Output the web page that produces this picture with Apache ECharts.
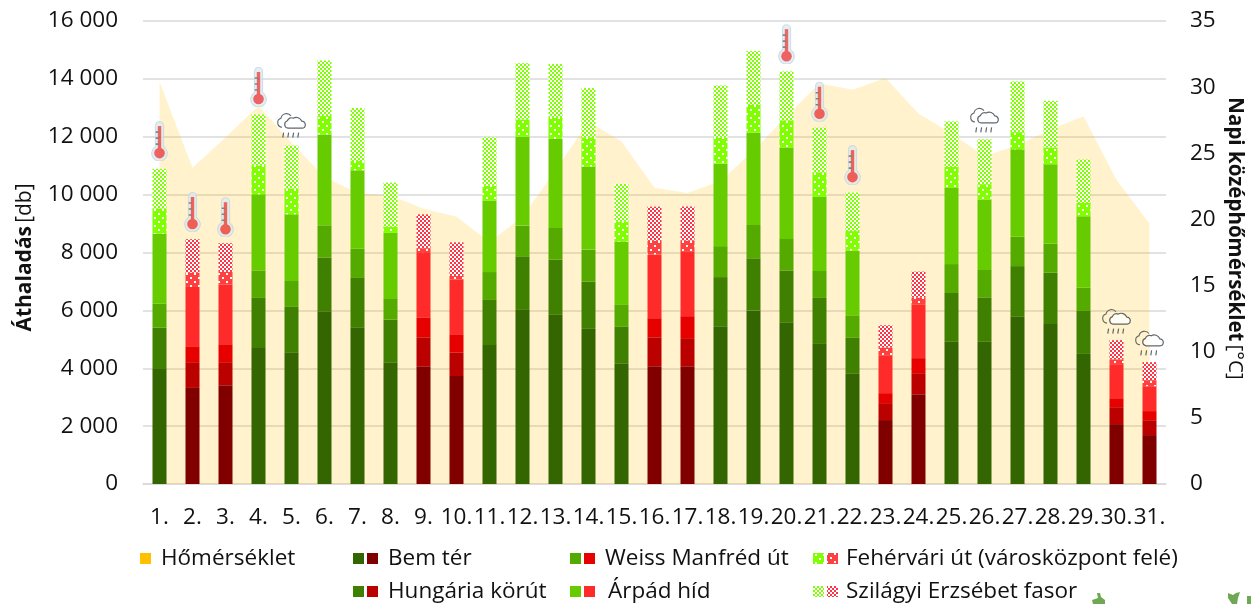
<!DOCTYPE html>
<html>
<head>
<meta charset="utf-8">
<style>
    html, body { margin: 0; padding: 0; background: #fff; }
    #chart { width: 1251px; height: 604px; }
</style>
<script src="https://cdn.jsdelivr.net/npm/echarts@6/dist/echarts.min.js"></script>
</head>
<body>
<div id="chart"></div>
<script>
var days = ["1.","2.","3.","4.","5.","6.","7.","8.","9.","10.","11.","12.","13.","14.","15.","16.","17.","18.","19.","20.","21.","22.","23.","24.","25.","26.","27.","28.","29.","30.","31."];
// 1-based days drawn in red
var redDays = [2,3,9,10,16,17,23,24,30,31];

var bemTer = [3970,3320,3415,4700,4550,5970,5415,4210,4070,3730,4800,6015,5865,5360,4175,4070,4070,5450,5990,5590,4840,3830,2210,3105,4935,4935,5800,5530,4495,2070,1690];
var hungaria = [1430,890,795,1730,1570,1860,1705,1470,1000,820,1560,1855,1885,1630,1255,1000,970,1700,1810,1790,1590,1220,585,725,1665,1515,1730,1770,1485,585,515];
var weiss = [830,550,620,950,895,1110,1010,714,690,625,965,1060,1100,1110,780,660,760,1070,1150,1090,930,780,345,520,1000,945,1010,1000,800,310,315];
var arpad = [2420,2050,2060,2630,2305,3140,2710,2286,2220,1895,2469,3070,3080,2870,2170,2205,2240,2850,3190,3160,2560,2240,1310,1860,2630,2435,3025,2750,2470,1150,860];
var fehervari = [870,490,440,1000,890,635,320,205,170,120,516,600,720,1010,690,470,370,900,960,935,850,670,265,230,725,530,595,580,460,195,210];
var szilagyi = [1370,1160,990,1760,1480,1920,1830,1530,1170,1160,1670,1940,1860,1700,1300,1180,1180,1800,1860,1690,1540,1330,770,900,1575,1550,1750,1610,1500,660,620];
var homerseklet = [30.4,23.9,26.2,28.6,25.8,23.2,22.0,21.8,20.8,20.2,18.3,20.2,23.7,27.4,25.9,22.4,22.0,22.9,25.2,27.8,30.3,29.8,30.7,28.0,26.5,24.8,25.6,26.8,27.8,23.0,19.7];

var thermoDays = [1,2,3,4,20,21,22];
var thermoValues = [11850,9400,9220,13720,15200,13210,11020];
var rainDays = [5,26,30,31];
var rainValues = [12400,12580,5630,4880];

var leftTicks = { min: 0, max: 16000, interval: 2000 };
var rightTicks = { min: 0, max: 35, interval: 5 };

var fontName = "'Open Sans'";
var textColor = "#111";
var labelSize = 22.5;

// dotted fill: solid colour with a few white pixels
function dotPattern(color) {
    var c = document.createElement("canvas");
    c.width = 8;
    c.height = 8;
    var ctx = c.getContext("2d");
    ctx.fillStyle = color;
    ctx.fillRect(0, 0, 8, 8);
    ctx.fillStyle = "#fff";
    ctx.fillRect(2, 1, 2, 2);
    ctx.fillRect(6, 5, 2, 2);
    return { image: c, repeat: "repeat" };
}

// checker fill: 2px squares of colour and white
function checkPattern(color) {
    var c = document.createElement("canvas");
    c.width = 4;
    c.height = 4;
    var ctx = c.getContext("2d");
    ctx.fillStyle = "#fff";
    ctx.fillRect(0, 0, 4, 4);
    ctx.fillStyle = color;
    ctx.fillRect(0, 0, 2, 2);
    ctx.fillRect(2, 2, 2, 2);
    return { image: c, repeat: "repeat" };
}

function svgUrl(svg) {
    return "image://data:image/svg+xml;charset=utf-8," + encodeURIComponent(svg);
}

var thermoIcon = svgUrl('<svg xmlns="http://www.w3.org/2000/svg" width="18" height="40" viewBox="0 0 18 40">' +
    '<path d="M5 4.500a4 4 0 0 1 8 0v21a7.800 7.800 0 1 1-8 0z" fill="#dfeaf0" stroke="#c3d8e3" stroke-width="1.200"/>' +
    '<rect x="7.300" y="5" width="3.400" height="25" fill="#e8403f"/>' +
    '<circle cx="9" cy="32" r="5.300" fill="#e93b3b"/>' +
    '<path d="M5.200 11h3.500M5.200 17h3.500M5.200 23h3.500" stroke="#666" stroke-width="1.600"/></svg>');

var rainIcon = svgUrl('<svg xmlns="http://www.w3.org/2000/svg" width="31" height="27" viewBox="0 0 31 27">' +
    '<path d="M6 15.500a4.600 4.600 0 0 1-1-9 5.600 5.600 0 0 1 10-2.300" fill="none" stroke="#39424a" stroke-width="1.100"/>' +
    '<path d="M12 16.500a3.800 3.800 0 0 1-.6-7.400 4.200 4.200 0 0 1 5.800-2.600 6 6 0 0 1 8.600 3 3.500 3.500 0 0 1 3.500 3.500c0 2-1.300 3.500-3.300 3.500z" fill="#fff" stroke="#39424a" stroke-width="1.200"/>' +
    '<path d="M7.600 21l-.8 5M12.600 21l-.8 5M17.600 21l-.8 5M22.600 21l-.8 5" stroke="#39424a" stroke-width="1.200"/></svg>');

var greens = ["#336600", "#408000", "#55aa00", "#66cc00", dotPattern("#80ff00"), checkPattern("#80ff00")];
var reds = ["#800000", "#bb0000", "#e60000", "#ff2a2a", dotPattern("#ff4040"), checkPattern("#ff3344")];

var stacks = [
    { name: "Bem tér", values: bemTer },
    { name: "Hungária körút", values: hungaria },
    { name: "Weiss Manfréd út", values: weiss },
    { name: "Árpád híd", values: arpad },
    { name: "Fehérvári út (városközpont felé)", values: fehervari },
    { name: "Szilágyi Erzsébet fasor", values: szilagyi }
];

var series = [{
    name: "Hőmérséklet",
    type: "line",
    yAxisIndex: 1,
    data: homerseklet,
    symbol: "none",
    silent: true,
    z: 1,
    itemStyle: { color: "#ffc000" },
    lineStyle: { width: 0 },
    areaStyle: { color: "#ffc000", opacity: 0.2 }
}];

stacks.forEach(function (s, idx) {
    series.push({
        name: s.name,
        type: "bar",
        stack: "athaladas",
        barWidth: 14,
        z: 2,
        itemStyle: { color: greens[idx] },
        data: s.values.map(function (v, i) {
            if (redDays.indexOf(i + 1) >= 0) {
                return { value: v, itemStyle: { color: reds[idx] } };
            }
            return v;
        })
    });
});

series.push({
    type: "scatter",
    z: 5,
    symbol: thermoIcon,
    symbolSize: [18, 40],
    data: thermoDays.map(function (d, i) { return [d - 1, thermoValues[i]]; })
});
series.push({
    type: "scatter",
    z: 5,
    symbol: rainIcon,
    symbolSize: [31, 27],
    data: rainDays.map(function (d, i) { return [d - 1, rainValues[i]]; })
});

// one legend per entry, the table in the reference has uneven columns
function legendItem(name, left, top, textGap) {
    return {
        data: [name],
        left: left,
        top: top,
        padding: 0,
        icon: "rect",
        itemWidth: 11,
        itemHeight: 11,
        selectedMode: false,
        textStyle: {
            fontFamily: fontName,
            fontSize: labelSize,
            color: textColor,
            padding: [0, 0, 0, textGap]
        }
    };
}

function redSwatch(idx, x, y) {
    return {
        type: "rect",
        shape: { x: x, y: y, width: 11, height: 11 },
        style: { fill: reds[idx] }
    };
}

// cropped plant picture peeking in at the bottom edge
function plantBit(points) {
    return { type: "polygon", shape: { points: points }, style: { fill: "#6fa854" } };
}

var row1 = 547;
var row2 = 580;

var chart = echarts.init(document.getElementById("chart"), null, { renderer: "canvas" });
chart.setOption({
    animation: false,
    backgroundColor: "#fff",
    textStyle: { fontFamily: fontName },
    grid: { left: 143, right: 85, top: 21, bottom: 120, outerBoundsMode: "none" },
    legend: [
        legendItem("Hőmérséklet", 140, row1, 5),
        legendItem("Bem tér", 353, row1, 19),
        legendItem("Hungária körút", 353, row2, 19),
        legendItem("Weiss Manfréd út", 570, row1, 19),
        legendItem("Árpád híd", 570, row2, 22),
        legendItem("Fehérvári út (városközpont felé)", 813, row1, 17),
        legendItem("Szilágyi Erzsébet fasor", 813, row2, 17)
    ],
    graphic: [
        redSwatch(0, 367, 553),
        redSwatch(1, 367, 586),
        redSwatch(2, 584, 553),
        redSwatch(3, 584, 586),
        redSwatch(4, 827, 553),
        redSwatch(5, 827, 586),
        plantBit([[1097,593],[1100,593],[1101,597],[1105,600],[1105,604],[1093,604],[1092,600],[1098,598]]),
        plantBit([[1228,593],[1233,595],[1236,593],[1240,592],[1238,598],[1237,604],[1232,604],[1228,598]]),
        plantBit([[1247,596],[1251,596],[1251,604],[1247,604]])
    ],
    xAxis: {
        type: "category",
        data: days,
        axisLine: { lineStyle: { color: "#d9d9d9", width: 1.5 } },
        axisTick: { length: 8, lineStyle: { color: "#d9d9d9", width: 1.5 } },
        axisLabel: { interval: 0, margin: 22, fontSize: labelSize, color: textColor, fontFamily: fontName }
    },
    yAxis: [{
        type: "value",
        min: leftTicks.min,
        max: leftTicks.max,
        interval: leftTicks.interval,
        name: "{b|Áthaladás} {n|[db]}",
        nameLocation: "middle",
        nameGap: 107,
        nameRotate: 90,
        nameMoveOverlap: false,
        nameTextStyle: {
            padding: [0, 10, 0, 0],
            rich: {
                b: { fontFamily: fontName, fontSize: 21, fontWeight: "bold", color: textColor },
                n: { fontFamily: fontName, fontSize: 21, color: textColor }
            }
        },
        axisLine: { show: false },
        axisTick: { show: false },
        splitLine: { lineStyle: { color: "#d9d9d9", width: 1.5 } },
        axisLabel: {
            margin: 25,
            fontSize: labelSize,
            color: textColor,
            fontFamily: fontName,
            formatter: function (v) { return String(v).replace(/\B(?=(\d{3})+$)/, " "); }
        }
    }, {
        type: "value",
        min: rightTicks.min,
        max: rightTicks.max,
        interval: rightTicks.interval,
        name: "{b|Napi középhőmérséklet} {n|[°C]}",
        nameLocation: "middle",
        nameGap: 58,
        nameRotate: -90,
        nameMoveOverlap: false,
        nameTextStyle: {
            padding: [0, 28, 0, 0],
            rich: {
                b: { fontFamily: fontName, fontSize: 20.5, fontWeight: "bold", color: textColor },
                n: { fontFamily: fontName, fontSize: 20.5, color: textColor }
            }
        },
        axisLine: { show: false },
        axisTick: { show: false },
        splitLine: { show: false },
        axisLabel: { margin: 24, fontSize: labelSize, color: textColor, fontFamily: fontName }
    }],
    series: series
});
</script>
</body>
</html>
